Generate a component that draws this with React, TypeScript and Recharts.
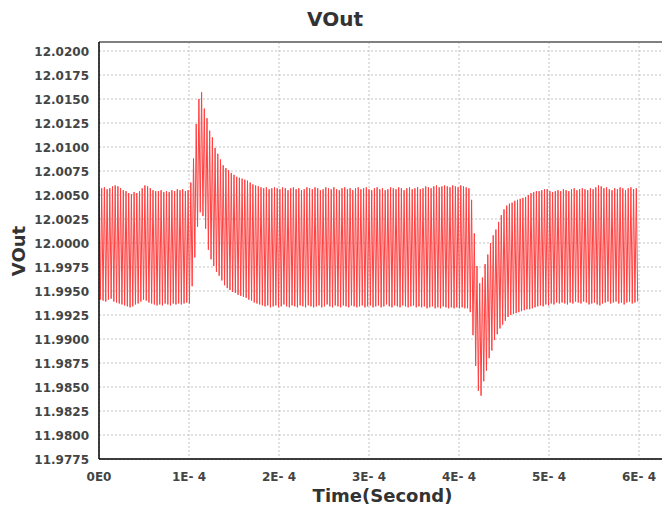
import React from 'react';
import { LineChart, Line, XAxis, YAxis, CartesianGrid, ReferenceLine } from 'recharts';

// one switching cycle = peak then trough
const CYCLE = 3e-6;

const highs = [
  12.0058, 12.0057, 12.0058, 12.0056, 12.0057, 12.0059, 12.006, 12.0059, 12.0057, 12.0055,
  12.0054, 12.0052, 12.0051, 12.0053, 12.0052, 12.0054, 12.0057, 12.006, 12.0059, 12.0057,
  12.0055, 12.0054, 12.0054, 12.0055, 12.0053, 12.0054, 12.0053, 12.0055, 12.0054, 12.0056,
  12.0055, 12.0056, 12.0054, 12.0055, 12.0063, 12.0088, 12.0124, 12.015, 12.0157, 12.014,
  12.013, 12.0117, 12.011, 12.0099, 12.0093, 12.0087, 12.0081, 12.0078, 12.0076, 12.0073,
  12.0071, 12.0069, 12.0068, 12.0067, 12.0066, 12.0065, 12.0063, 12.0061, 12.006, 12.0059,
  12.0058, 12.0057, 12.0058, 12.0056, 12.0057, 12.0058, 12.0057, 12.0056, 12.0058, 12.0057,
  12.0055, 12.0057, 12.0058, 12.0056, 12.0057, 12.0055, 12.0056, 12.0058, 12.0057, 12.0056,
  12.0058, 12.0057, 12.0055, 12.0056, 12.0058, 12.0057, 12.0056, 12.0058, 12.0056, 12.0055,
  12.0057, 12.0058, 12.0056, 12.0057, 12.0055, 12.0057, 12.0058, 12.0056, 12.0057, 12.0058,
  12.0056, 12.0055, 12.0057, 12.0058, 12.0056, 12.0057, 12.0055, 12.0056, 12.0058, 12.0057,
  12.0056, 12.0058, 12.0057, 12.0055, 12.0057, 12.0058, 12.0056, 12.0057, 12.0058, 12.0056,
  12.0057, 12.0059, 12.0058, 12.0057, 12.0059, 12.006, 12.0058, 12.0059, 12.006, 12.0059,
  12.0058, 12.006, 12.0059, 12.0058, 12.006, 12.0059, 12.0058, 12.0057, 12.0045, 12.001,
  11.9976, 11.9958, 11.9964, 11.9978, 11.9988, 12.0, 12.0008, 12.0014, 12.0022, 12.0029,
  12.0035, 12.0039, 12.0041, 12.0042, 12.0044, 12.0045, 12.0046, 12.0047, 12.0048, 12.005,
  12.0052, 12.0053, 12.0054, 12.0054, 12.0055, 12.0056, 12.0056, 12.0054, 12.0053, 12.0054,
  12.0055, 12.0054, 12.0056, 12.0055, 12.0054, 12.0056, 12.0057, 12.0055, 12.0056, 12.0057,
  12.0056, 12.0055, 12.0057, 12.0056, 12.0058, 12.006, 12.0059, 12.0057, 12.0058, 12.0056,
  12.0055, 12.0057, 12.0056, 12.0058, 12.0057, 12.0055, 12.0057, 12.0058, 12.0056, 12.0057,
];

const lows = [
  11.9941, 11.994, 11.9939, 11.9941, 11.9942, 11.9939, 11.9938, 11.9937, 11.9936, 11.9935,
  11.9934, 11.9933, 11.9934, 11.9936, 11.9937, 11.9939, 11.9941, 11.994, 11.9938, 11.9937,
  11.9936, 11.9935, 11.9936, 11.9935, 11.9937, 11.9936, 11.9935, 11.9937, 11.9936, 11.9937,
  11.9936, 11.9937, 11.9938, 11.9937, 11.9955, 11.9985, 12.0017, 12.0032, 12.0028, 12.0015,
  11.9993, 11.9983, 11.9976, 11.997, 11.9966, 11.9961, 11.9956, 11.9953, 11.9951, 11.9949,
  11.9948, 11.9946, 11.9945, 11.9944, 11.9943, 11.9941, 11.994, 11.9938, 11.9937, 11.9936,
  11.9935, 11.9934, 11.9935, 11.9933, 11.9934, 11.9935, 11.9933, 11.9934, 11.9936, 11.9934,
  11.9933, 11.9935, 11.9934, 11.9933, 11.9935, 11.9934, 11.9933, 11.9935, 11.9934, 11.9933,
  11.9934, 11.9935, 11.9933, 11.9934, 11.9936, 11.9934, 11.9933, 11.9935, 11.9934, 11.9933,
  11.9935, 11.9934, 11.9933, 11.9935, 11.9934, 11.9933, 11.9934, 11.9935, 11.9933, 11.9934,
  11.9935, 11.9933, 11.9934, 11.9935, 11.9933, 11.9934, 11.9936, 11.9934, 11.9933, 11.9935,
  11.9934, 11.9933, 11.9935, 11.9934, 11.9933, 11.9934, 11.9935, 11.9933, 11.9934, 11.9933,
  11.9934, 11.9932, 11.9933, 11.9934, 11.9932, 11.9933, 11.9932, 11.9934, 11.9933, 11.9932,
  11.9933, 11.9932, 11.9933, 11.9932, 11.9933, 11.9932, 11.9932, 11.9928, 11.9904, 11.9872,
  11.9846, 11.9841, 11.9856, 11.9867, 11.988, 11.9888, 11.9899, 11.9905, 11.9911, 11.9915,
  11.9919, 11.9923, 11.9925, 11.9926, 11.9927, 11.9928, 11.9929, 11.993, 11.9931, 11.9931,
  11.9932, 11.9933, 11.9934, 11.9935, 11.9934, 11.9936, 11.9935, 11.9937, 11.9936, 11.9938,
  11.9937, 11.9938, 11.9937, 11.9936, 11.9938, 11.9937, 11.9939, 11.9938, 11.9937, 11.9939,
  11.9938, 11.9936, 11.9937, 11.9938, 11.9936, 11.9935, 11.9937, 11.9938, 11.9939, 11.9937,
  11.9938, 11.9939, 11.9937, 11.9938, 11.9936, 11.9938, 11.9939, 11.9937, 11.9938, 11.9939,
];

const xTicks = [0, 1e-4, 2e-4, 3e-4, 4e-4, 5e-4, 6e-4];
const xTickLabels = ['0E0', '1E- 4', '2E- 4', '3E- 4', '4E- 4', '5E- 4', '6E- 4'];
const yTicks = [
  11.9775, 11.98, 11.9825, 11.985, 11.9875, 11.99, 11.9925, 11.995, 11.9975,
  12.0, 12.0025, 12.005, 12.0075, 12.01, 12.0125, 12.015, 12.0175, 12.02,
];

const Y_MIN = 11.9775;
const Y_MAX = 12.02094;
const X_MAX = 6.311e-4;

const data: { t: number; v: number }[] = [];
highs.forEach((h, k) => {
  data.push({ t: k * CYCLE, v: h });
  data.push({ t: k * CYCLE + CYCLE / 2, v: lows[k] });
});

const font = '"DejaVu Sans", sans-serif';
const tickColor = '#444';

const YTick = ({ y, payload }: any) => (
  <text x={89} y={y} dy={4.5} textAnchor="end" fontFamily={font} fontWeight="bold" fontSize={12} fill={tickColor}>
    {payload.value.toFixed(4)}
  </text>
);

const XTick = ({ x, payload }: any) => {
  const i = xTicks.indexOf(payload.value);
  return (
    <text x={x} y={480.5} textAnchor="middle" fontFamily={font} fontWeight="bold" fontSize={12} fill={tickColor}>
      {i >= 0 ? xTickLabels[i] : ''}
    </text>
  );
};

export default function App() {
  return (
    <div style={{ position: 'absolute', left: 0, top: 0, width: 662, height: 513, overflow: 'hidden', background: '#fff' }}>
      <div style={{ position: 'relative', width: 667, height: 513 }}>
        <LineChart width={667} height={513} data={data} margin={{ top: 42, right: 0, left: 0, bottom: 0 }}>
          <CartesianGrid stroke="#c4c4c4" strokeDasharray="2 2" />
          <XAxis
            dataKey="t"
            type="number"
            domain={[0, X_MAX]}
            ticks={xTicks}
            allowDataOverflow
            height={54}
            tickLine={false}
            axisLine={{ stroke: '#000', strokeWidth: 1.5 }}
            tick={<XTick />}
          />
          <YAxis
            type="number"
            domain={[Y_MIN, Y_MAX]}
            ticks={yTicks}
            allowDataOverflow
            width={99}
            tickLine={false}
            axisLine={{ stroke: '#000', strokeWidth: 1.5 }}
            tick={<YTick />}
          />
          <ReferenceLine y={Y_MAX} stroke="#808080" strokeWidth={2} />
          <Line type="linear" dataKey="v" stroke="#ff4040" strokeWidth={1} dot={false} isAnimationActive={false} />
        </LineChart>
        <div style={{ position: 'absolute', left: 0, width: 670, top: 7, textAlign: 'center', fontFamily: font, fontWeight: 'bold', fontSize: 20, color: '#333' }}>
          VOut
        </div>
        <div style={{ position: 'absolute', left: 99, width: 567, top: 485, textAlign: 'center', fontFamily: font, fontWeight: 'bold', fontSize: 18, color: '#333' }}>
          Time(Second)
        </div>
        <div
          style={{
            position: 'absolute', left: 17.5, top: 251, transform: 'translate(-50%, -50%) rotate(-90deg)',
            fontFamily: font, fontWeight: 'bold', fontSize: 18, color: '#333', whiteSpace: 'nowrap',
          }}
        >
          VOut
        </div>
      </div>
    </div>
  );
}
